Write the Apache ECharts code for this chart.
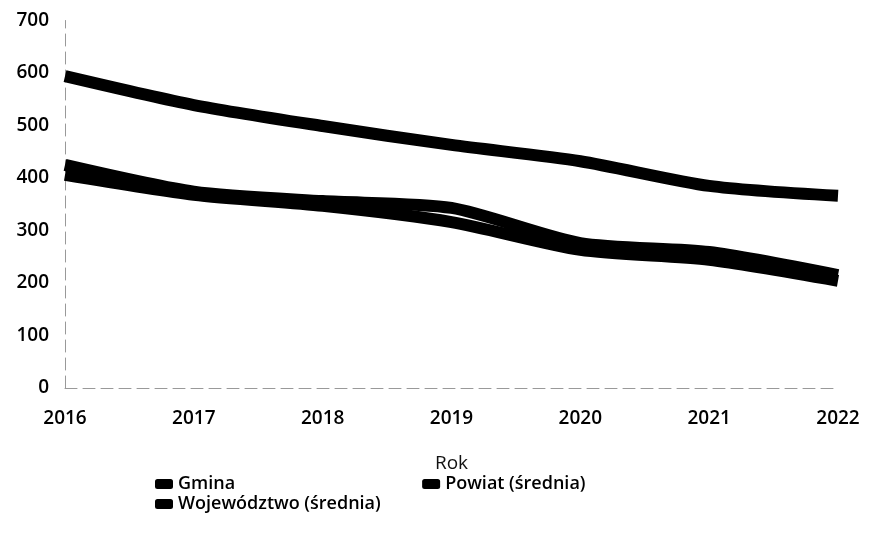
<!DOCTYPE html>
<html><head><meta charset="utf-8">
<script src="https://cdn.jsdelivr.net/npm/echarts@6/dist/echarts.min.js"></script>
<style>html,body{margin:0;padding:0;background:#fff}#c{width:869px;height:548px}</style>
</head><body><div id="c"></div>
<script>
const years = ['2016','2017','2018','2019','2020','2021','2022'];
const gmina = [594, 539, 499, 463, 432, 385, 366];
const powiat = [425, 374, 356, 343, 276, 259, 215];
const wojewodztwo = [406, 368, 347, 316, 263, 244, 204];
const yTicks = [0, 100, 200, 300, 400, 500, 600, 700];
const seriesNames = ['Gmina', 'Powiat (średnia)', 'Województwo (średnia)'];

const chart = echarts.init(document.getElementById('c'), null, {renderer: 'canvas'});
const FONT = 'Open Sans';
const lineStyle = {width: 12, color: '#000', cap: 'butt', join: 'round'};
function mk(name, data) {
  return {name, type: 'line', data, smooth: 0.25, symbol: 'none',
    lineStyle: lineStyle, itemStyle: {color: '#000'}};
}
const legendText = {fontFamily: FONT, fontSize: 18, fontWeight: 600, color: '#000'};
chart.setOption({
  animation: false,
  backgroundColor: '#fff',
  grid: {left: 65, right: 31, top: 20.5, bottom: 160, containLabel: false},
  xAxis: {
    type: 'category', data: years, boundaryGap: false,
    name: 'Rok', nameLocation: 'middle', nameGap: 66,
    nameTextStyle: {fontFamily: FONT, fontSize: 19, color: '#111'},
    axisLine: {lineStyle: {color: '#999', type: [12, 6], width: 1}},
    axisTick: {show: false},
    axisLabel: {fontFamily: FONT, fontSize: 19, fontWeight: 600, color: '#000', margin: 21}
  },
  yAxis: {
    type: 'value', min: yTicks[0], max: yTicks[yTicks.length - 1], interval: 100,
    axisLine: {show: true, lineStyle: {color: '#999', type: [12, 6], width: 1}},
    axisTick: {show: false},
    splitLine: {show: false},
    axisLabel: {fontFamily: FONT, fontSize: 19, fontWeight: 600, color: '#000', margin: 16}
  },
  legend: [
    {data: [seriesNames[0], seriesNames[1]], left: 150, top: 470, itemGap: 187,
     icon: 'roundRect', itemWidth: 18, itemHeight: 10, textStyle: legendText},
    {data: [seriesNames[2]], left: 150, top: 490,
     icon: 'roundRect', itemWidth: 18, itemHeight: 10, textStyle: legendText}
  ],
  series: [mk(seriesNames[0], gmina), mk(seriesNames[1], powiat), mk(seriesNames[2], wojewodztwo)]
});
</script></body></html>
